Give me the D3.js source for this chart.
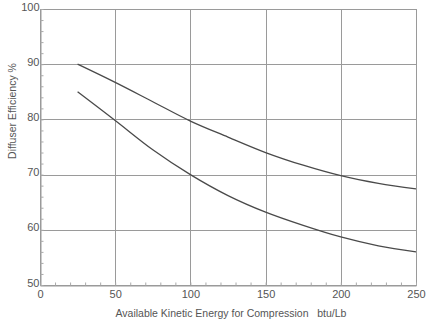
<!DOCTYPE html>
<html lang="en">
  <head>
    <meta charset="UTF-8" />
    <title>Diffuser Efficiency</title>
    <style>
      body { margin: 0; background: #fff; }
      text { font-family: "Liberation Sans", Arial, sans-serif; fill: #555; white-space: pre; }
    </style>
  </head>
  <body>
    <script src="https://d3js.org/d3.v7.min.js"></script>
    <script>
      const energy = [25, 50, 75, 100, 125, 150, 175, 200, 225, 250]
      const upperEff = [90, 86.7, 83.2, 79.7, 76.8, 74.0, 71.7, 69.8, 68.4, 67.4]
      const lowerEff = [85, 79.8, 74.5, 70.0, 66.2, 63.2, 60.8, 58.7, 57.1, 56.0]
      const xTicks = [0, 50, 100, 150, 200, 250]
      const yTicks = [50, 60, 70, 80, 90, 100]

      const width = 432
      const height = 323
      const padding = { top: 9, right: 16, bottom: 38, left: 40 }

      const svg = d3.select('body').append('svg')
        .attr('width', width).attr('height', height)

      const x = d3.scaleLinear().domain([0, 250])
        .range([padding.left, width - padding.right])
      const y = d3.scaleLinear().domain([50, 100])
        .range([height - padding.bottom, padding.top])

      // grid
      const grid = svg.append('g').attr('stroke', '#9a9a9a').attr('stroke-width', 1)
      grid.selectAll('.gx').data(xTicks).enter().append('line')
        .attr('x1', d => Math.round(x(d)) + 0.5).attr('x2', d => Math.round(x(d)) + 0.5)
        .attr('y1', y(50)).attr('y2', y(100))
      grid.selectAll('.gy').data(yTicks).enter().append('line')
        .attr('y1', d => Math.round(y(d)) + 0.5).attr('y2', d => Math.round(y(d)) + 0.5)
        .attr('x1', x(0)).attr('x2', x(250))

      // axes with inward minor ticks
      const xAxis = g => g
        .attr('transform', `translate(0,${Math.round(y(50)) + 0.5})`)
        .call(d3.axisBottom(x).tickValues(d3.range(0, 251, 10)).tickSize(-3)
          .tickFormat(d => xTicks.includes(d) ? d : ''))
        .call(g => g.select('.domain').attr('stroke', '#9a9a9a'))
        .call(g => g.selectAll('.tick line').attr('stroke', '#aaa'))
        .call(g => g.selectAll('.tick text').attr('y', 5).attr('dy', '0.71em')
          .attr('font-size', 11).attr('fill', '#666'))

      const yAxis = g => g
        .attr('transform', `translate(${Math.round(x(0)) + 0.5},0)`)
        .call(d3.axisLeft(y).tickValues(d3.range(50, 101, 2)).tickSize(-3)
          .tickFormat(d => yTicks.includes(d) ? d : ''))
        .call(g => g.select('.domain').attr('stroke', '#9a9a9a'))
        .call(g => g.selectAll('.tick line').attr('stroke', '#aaa'))
        .call(g => g.selectAll('.tick text').attr('x', -1).attr('dy', '0.1em')
          .attr('font-size', 11).attr('fill', '#666'))

      svg.append('g').call(xAxis)
      svg.append('g').call(yAxis)

      const line = d3.line().curve(d3.curveCatmullRom.alpha(0.5))
        .x((d, i) => x(energy[i])).y(d => y(d))

      svg.selectAll('.curve').data([upperEff, lowerEff]).enter().append('path')
        .attr('d', line).attr('fill', 'none')
        .attr('stroke', '#4a4a4a').attr('stroke-width', 1.3)

      svg.append('text')
        .attr('x', 231).attr('y', 317)
        .attr('text-anchor', 'middle').attr('font-size', 10.5)
        .attr('xml:space', 'preserve')
        .text('Available Kinetic Energy for Compression   btu/Lb')

      svg.append('text')
        .attr('transform', 'translate(16,111) rotate(-90)')
        .attr('text-anchor', 'middle').attr('font-size', 10.5)
        .text('Diffuser Efficiency %')
    </script>
  </body>
</html>
